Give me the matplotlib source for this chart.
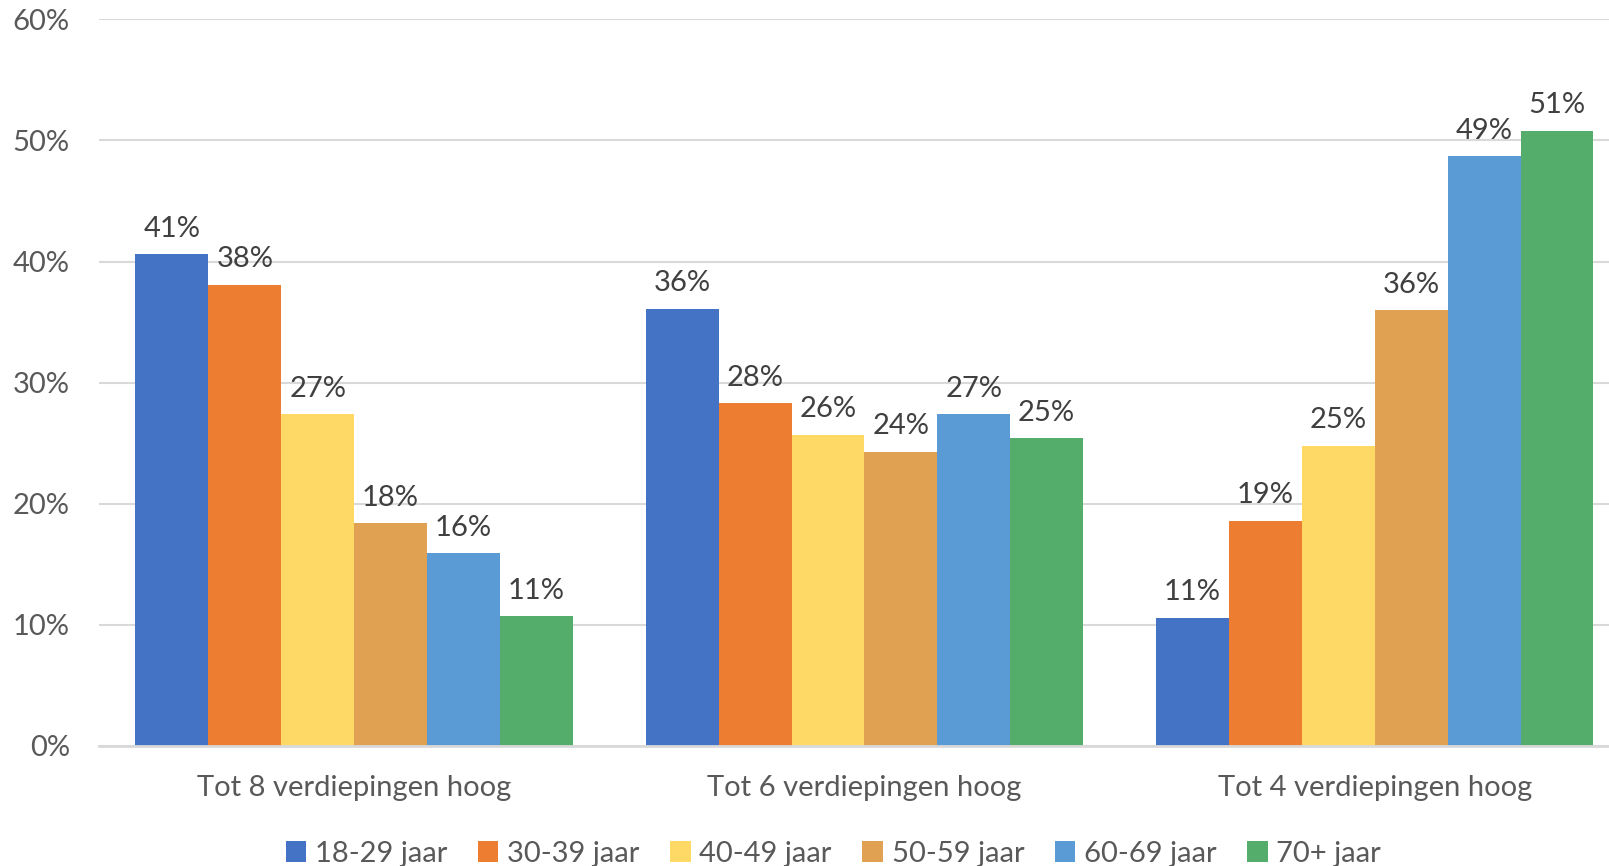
import numpy as np
import matplotlib.pyplot as plt

categories = ['Tot 8 verdiepingen hoog', 'Tot 6 verdiepingen hoog', 'Tot 4 verdiepingen hoog']
series_names = ['18-29 jaar', '30-39 jaar', '40-49 jaar', '50-59 jaar', '60-69 jaar', '70+ jaar']
values = [
    [40.6, 36.1, 10.6],   # 18-29
    [38.1, 28.3, 18.6],   # 30-39
    [27.4, 25.7, 24.8],   # 40-49
    [18.4, 24.3, 36.0],   # 50-59
    [15.9, 27.4, 48.7],   # 60-69
    [10.7, 25.4, 50.8],   # 70+
]
colors = ['#4472C4', '#ED7D31', '#FFD966', '#E0A153', '#5B9BD5', '#55AD6C']
yticks = [0, 10, 20, 30, 40, 50, 60]

plt.rcParams['font.family'] = ['Lato', 'DejaVu Sans']

fig = plt.figure(figsize=(16.09, 8.66), dpi=100)
ax = fig.add_axes([0.0615, 0.1386, 0.9515, 0.839])

x = np.arange(len(categories))
w = 0.857 / len(series_names)
for i, (name, vals) in enumerate(zip(series_names, values)):
    pos = x - 0.857 / 2 + w * (i + 0.5)
    bars = ax.bar(pos, vals, width=w, color=colors[i], label=name, zorder=3)
    for b, v in zip(bars, vals):
        ax.annotate(f'{int(v + 0.5)}%', (b.get_x() + b.get_width() / 2, v),
                    xytext=(0, 9), textcoords='offset points', ha='center', va='bottom',
                    fontsize=21, color='#404040')

ax.set_xlim(-0.5, 2.5)
ax.set_ylim(0, 60)
ax.set_yticks(yticks)
ax.set_yticklabels([f'{t}%' for t in yticks])
ax.set_xticks(x)
ax.set_xticklabels(categories)
ax.tick_params(axis='both', length=0, labelsize=21, labelcolor='#595959')
ax.tick_params(axis='x', pad=21)
ax.tick_params(axis='y', pad=21)
ax.grid(axis='y', color='#D9D9D9', linewidth=1.5, zorder=0)
for s in ['top', 'right', 'left']:
    ax.spines[s].set_visible(False)
ax.spines['bottom'].set_color('#D9D9D9')
ax.spines['bottom'].set_linewidth(2)
ax.spines['bottom'].set_zorder(4)

leg = fig.legend(loc='center', bbox_to_anchor=(0.518, 0.014), ncol=6, frameon=False,
                 fontsize=21, handlelength=0.7, handleheight=0.7, handletextpad=0.3,
                 columnspacing=1.05, labelcolor='#595959')

fig.savefig('out.png', dpi=100)
